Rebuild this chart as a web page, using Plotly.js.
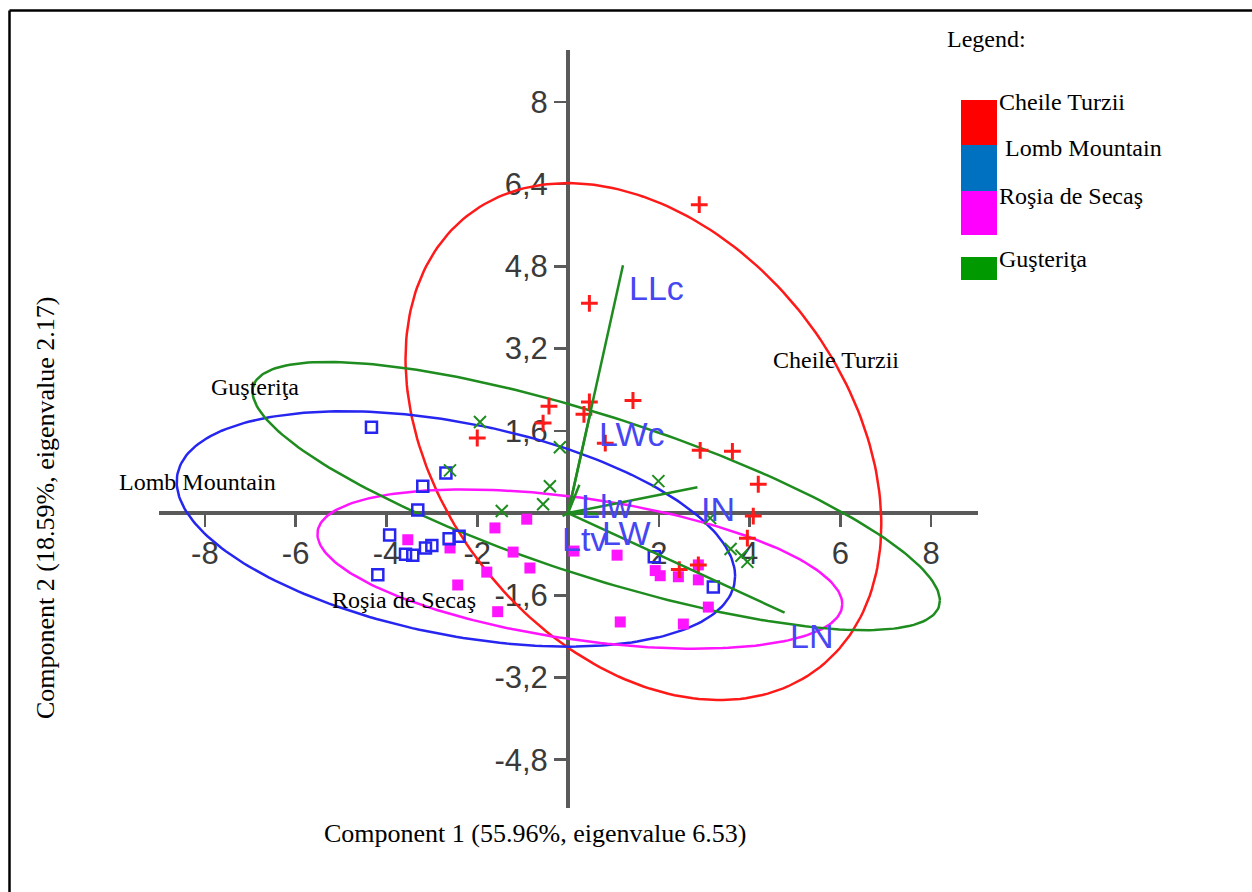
<!DOCTYPE html>
<html>
<head>
<meta charset="utf-8">
<script src="https://cdn.plot.ly/plotly-3.0.1.min.js"></script>
<style>html,body{margin:0;padding:0;background:#fff;}#chart{width:1252px;height:892px;}</style>
</head>
<body>
<div id="chart"></div>
<script>
// ---------- data ----------
const groupNames = ['Cheile Turzii', 'Lomb Mountain', 'Roşia de Secaş', 'Guşteriţa'];
const groupColors = ['#ff1a1a', '#2626f0', '#ff14ff', '#1e8c1e'];
const legendColors = ['#ff0000', '#0070c0', '#ff00ff', '#009900'];

const cheileX = [2.89, 0.47, -0.42, 0.47, 0.35, 1.43, -0.55, -2.0, 0.82, 2.91, 3.62, 4.19, 4.08, 3.95, 2.87, 2.45];
const cheileY = [6.0, 4.08, 2.08, 2.16, 1.92, 2.19, 1.75, 1.46, 1.36, 1.22, 1.2, 0.56, -0.06, -0.49, -1.01, -1.1];

const lombX = [-4.33, -2.69, -3.2, -3.31, -3.93, -3.58, -3.42, -3.14, -3.0, -2.62, -2.4, -4.19, 1.9, 3.2];
const lombY = [1.67, 0.78, 0.52, 0.06, -0.43, -0.8, -0.82, -0.68, -0.63, -0.5, -0.45, -1.2, -0.85, -1.44];

const rosiaX = [-3.53, -2.6, -1.61, -0.91, -1.21, -1.79, -0.84, -2.43, -1.55, 0.13, 1.08, 1.15, 1.92, 2.03, 2.43, 2.87, 2.87, 3.09, 2.54];
const rosiaY = [-0.52, -0.68, -0.29, -0.12, -0.76, -1.15, -1.07, -1.4, -1.92, -0.74, -0.82, -2.12, -1.12, -1.22, -1.24, -1.01, -1.3, -1.83, -2.16];

const gusterX = [-1.94, -0.18, -0.4, -0.55, -1.46, -2.6, 1.99, 3.13, 3.58, 3.82, 3.95];
const gusterY = [1.77, 1.28, 0.52, 0.17, 0.04, 0.83, 0.62, -0.1, -0.7, -0.83, -0.95];

// 95% ellipses: centre, half-extent along x and y, correlation
const ellCx  = [1.66, -2.47, 0.26, 0.62];
const ellCy  = [1.39, -0.31, -1.09, 0.33];
const ellWx  = [5.24, 6.15, 5.78, 7.57];
const ellWy  = [5.03, 2.29, 1.55, 2.61];
const ellRho = [-0.32, -0.40, -0.44, -0.78];

// loading vectors (biplot)
const loadNames = ['LLc', 'LWc', 'Llw', 'IN', 'LW', 'Ltv', 'LN'];
const loadX = [1.21, 0.5, 0.25, 2.85, 0.66, -0.12, 4.77];
const loadY = [4.82, 1.98, 0.55, 0.5, -0.02, -0.06, -1.94];

// group labels on the plot
const groupLabelX = [5.9, -8.17, -3.62, -6.89];
const groupLabelY = [2.97, 0.6, -1.69, 2.45];

// ticks
const xTickVals = [-8, -6, -4, -2, 2, 4, 6, 8];
const xTickText = ['-8', '-6', '-4', '-2', '2', '4', '6', '8'];
const yTickVals = [-4.8, -3.2, -1.6, 1.6, 3.2, 4.8, 6.4, 8];
const yTickText = ['-4,8', '-3,2', '-1,6', '1,6', '3,2', '4,8', '6,4', '8'];

const xTitle = 'Component 1 (55.96%, eigenvalue 6.53)';
const yTitle = 'Component 2 (18.59%, eigenvalue 2.17)';

// ---------- layout geometry ----------
const W = 1252, H = 892, ML = 159, MR = 274, MT = 50, MB = 84;
const XR = [-9.01, 9.03], YR = [-5.74, 9.01];
const PX = px => (px - ML) / (W - ML - MR);
const PY = py => (H - MB - py) / (H - MT - MB);

const serif = 'Liberation Serif, Times New Roman, serif';
const sans = 'Liberation Sans, Arial, sans-serif';

const traces = [];

// ellipses
for (let g = 0; g < 4; g++) {
  const ex = [], ey = [];
  const s = Math.sqrt(1 - ellRho[g] * ellRho[g]);
  for (let i = 0; i <= 240; i++) {
    const t = 2 * Math.PI * i / 240;
    ex.push(ellCx[g] + ellWx[g] * Math.cos(t));
    ey.push(ellCy[g] + ellWy[g] * (ellRho[g] * Math.cos(t) - s * Math.sin(t)));
  }
  traces.push({x: ex, y: ey, mode: 'lines', line: {color: groupColors[g], width: 2.5}, hoverinfo: 'skip'});
}

// points
traces.push({x: rosiaX, y: rosiaY, mode: 'markers', name: groupNames[2],
  marker: {symbol: 'square', size: 11, color: groupColors[2]}});
traces.push({x: lombX, y: lombY, mode: 'markers', name: groupNames[1],
  marker: {symbol: 'square-open', size: 11, color: groupColors[1], line: {width: 2.5, color: groupColors[1]}}});
traces.push({x: gusterX, y: gusterY, mode: 'markers', name: groupNames[3],
  marker: {symbol: 'x-thin', size: 12, line: {width: 2, color: groupColors[3]}}});
traces.push({x: cheileX, y: cheileY, mode: 'markers', name: groupNames[0],
  marker: {symbol: 'cross-thin', size: 12, line: {width: 3, color: groupColors[0]}}});

// loading vectors
const vx = [], vy = [];
for (let i = 0; i < loadNames.length; i++) { vx.push(0, loadX[i], null); vy.push(0, loadY[i], null); }
traces.push({x: vx, y: vy, mode: 'lines', line: {color: '#1e8c1e', width: 2.5}, hoverinfo: 'skip'});

const annotations = [];
const labShift = {LLc: [4, -2], LWc: [6, -2], Llw: [0, 0], IN: [2, -1], LW: [2, 2], Ltv: [-3, -2], LN: [3, -2]};
for (let i = 0; i < loadNames.length; i++) {
  const sh = labShift[loadNames[i]] || [0, 0];
  annotations.push({x: loadX[i], y: loadY[i], xref: 'x', yref: 'y', text: loadNames[i], showarrow: false,
    xanchor: 'left', yanchor: 'top', xshift: sh[0], yshift: sh[1],
    font: {family: sans, size: 34, color: '#4646f2'}});
}
for (let g = 0; g < 4; g++) {
  annotations.push({x: groupLabelX[g], y: groupLabelY[g], xref: 'x', yref: 'y', text: groupNames[g], showarrow: false,
    xanchor: 'center', yanchor: 'middle', font: {family: serif, size: 24, color: '#000'}});
}
// axis titles
annotations.push({x: PX(535), y: PY(833), xref: 'paper', yref: 'paper', text: xTitle, showarrow: false,
  xanchor: 'center', yanchor: 'middle', font: {family: serif, size: 26, color: '#000'}});
annotations.push({x: PX(45), y: PY(508), xref: 'paper', yref: 'paper', text: yTitle, showarrow: false, textangle: -90,
  xanchor: 'center', yanchor: 'middle', font: {family: serif, size: 26, color: '#000'}});

// legend (drawn block)
annotations.push({x: PX(945), y: PY(39), xref: 'paper', yref: 'paper', text: 'Legend:', showarrow: false,
  xanchor: 'left', yanchor: 'middle', font: {family: serif, size: 24, color: '#000'}});
const legRectTop = [100, 145, 191, 257];
const legRectBot = [145, 191, 235, 280];
const legTextX = [997, 1003, 997, 997];
const legTextY = [102, 148, 196, 259];
const shapes = [];
for (let g = 0; g < 4; g++) {
  shapes.push({type: 'rect', xref: 'paper', yref: 'paper', x0: PX(961), x1: PX(997), y0: PY(legRectBot[g]), y1: PY(legRectTop[g]),
    fillcolor: legendColors[g], line: {width: 0}, layer: 'above'});
  annotations.push({x: PX(legTextX[g]), y: PY(legTextY[g]), xref: 'paper', yref: 'paper', text: groupNames[g], showarrow: false,
    xanchor: 'left', yanchor: 'middle', font: {family: serif, size: 24, color: '#000'}});
}
// frame
shapes.push({type: 'line', xref: 'paper', yref: 'paper', x0: PX(9.5), x1: PX(1300), y0: PY(10.5), y1: PY(10.5), line: {color: '#000', width: 2.5}});
shapes.push({type: 'line', xref: 'paper', yref: 'paper', x0: PX(9.5), x1: PX(9.5), y0: PY(10.5), y1: PY(950), line: {color: '#000', width: 2.5}});

const layout = {
  width: W, height: H,
  margin: {l: ML, r: MR, t: MT, b: MB, pad: 0},
  paper_bgcolor: '#fff', plot_bgcolor: 'rgba(0,0,0,0)',
  showlegend: false,
  xaxis: {range: XR, anchor: 'free', position: (0 - YR[0]) / (YR[1] - YR[0]), showline: true, linecolor: '#5a5a5a', linewidth: 4,
    ticks: 'outside', ticklen: 12, tickwidth: 2.5, tickcolor: '#5a5a5a', tickvals: xTickVals, ticktext: xTickText,
    tickfont: {family: sans, size: 31, color: '#3a3a3a'}, showgrid: false, zeroline: false, layer: 'below traces', fixedrange: true},
  yaxis: {range: YR, anchor: 'free', position: (0 - XR[0]) / (XR[1] - XR[0]), showline: true, linecolor: '#5a5a5a', linewidth: 4,
    ticks: 'outside', ticklen: 12, tickwidth: 2.5, tickcolor: '#5a5a5a', tickvals: yTickVals, ticktext: yTickText,
    tickfont: {family: sans, size: 31, color: '#3a3a3a'}, showgrid: false, zeroline: false, layer: 'below traces', fixedrange: true},
  annotations: annotations,
  shapes: shapes
};

Plotly.newPlot('chart', traces, layout, {displayModeBar: false, staticPlot: true});
</script>
</body>
</html>
